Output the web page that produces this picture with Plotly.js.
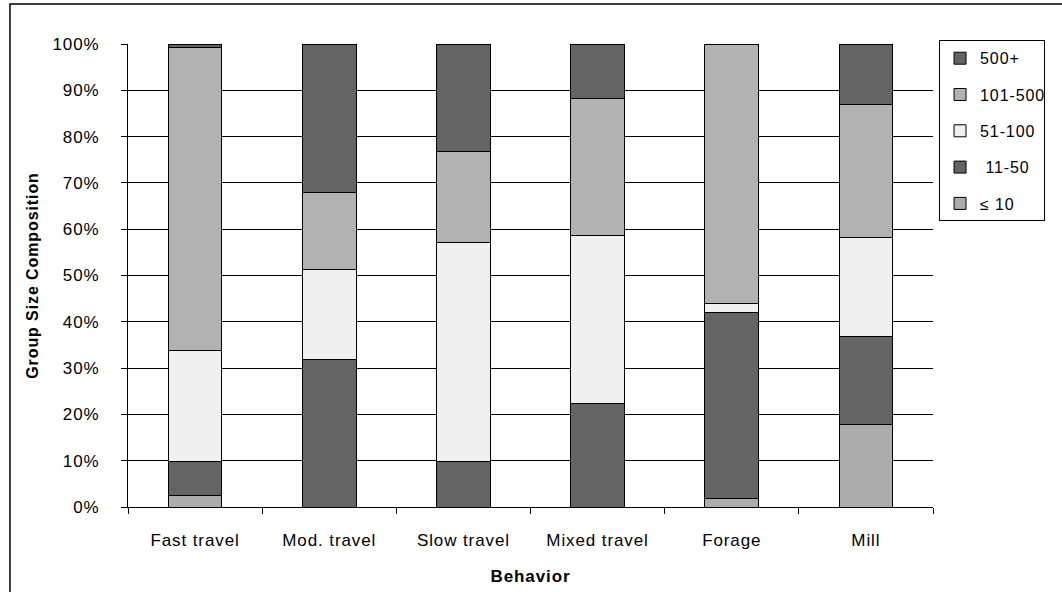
<!DOCTYPE html>
<html>
<head>
<meta charset="utf-8">
<script src="https://cdn.plot.ly/plotly-3.0.1.min.js"></script>
<style>
html, body { margin: 0; padding: 0; background: #ffffff; }
#chart { width: 1062px; height: 592px; }
#chart .xtick text, #chart .ytick text, #chart .legendtext, #chart .g-xtitle text, #chart .g-ytitle text { letter-spacing: 0.9px; }
</style>
</head>
<body>
<div id="chart"></div>
<script>
var categories = ['Fast travel', 'Mod. travel', 'Slow travel', 'Mixed travel', 'Forage', 'Mill'];
var seriesNames = ['\u2264 10', ' 11-50', '51-100', '101-500', '500+'];
var le10 = [2.5, 0, 0, 0, 1.8, 17.9];
var s11to50 = [7.3, 31.9, 9.8, 22.4, 40.3, 19.0];
var s51to100 = [24.0, 19.4, 47.3, 36.2, 1.9, 21.3];
var s101to500 = [65.5, 16.7, 19.6, 29.7, 56.0, 28.8];
var s500plus = [0.7, 32.0, 23.3, 11.7, 0, 13.0];
var yTickVals = [0, 10, 20, 30, 40, 50, 60, 70, 80, 90, 100];
var yTickText = ['0%', '10%', '20%', '30%', '40%', '50%', '60%', '70%', '80%', '90%', '100%'];

var seriesValues = [le10, s11to50, s51to100, s101to500, s500plus];
var seriesColors = ['#acacac', '#646464', '#f0f0f0', '#b2b2b2', '#646464'];

var FONT = 'Liberation Sans, Arial, sans-serif';

var traces = seriesValues.map(function (vals, i) {
  return {
    type: 'bar',
    name: seriesNames[i],
    x: categories,
    y: vals,
    legendgroup: 'g' + i,
    legendrank: 5 - i,
    marker: { color: seriesColors[i], line: { color: '#000000', width: 1 } },
    hoverinfo: 'x+y+name'
  };
});

var layout = {
  width: 1062,
  height: 592,
  margin: { l: 128, r: 129, t: 44, b: 85 },
  paper_bgcolor: '#ffffff',
  plot_bgcolor: '#ffffff',
  barmode: 'stack',
  bargap: 0.6,
  font: { family: FONT, size: 16, color: '#000000' },
  showlegend: true,
  legend: {
    x: 1.0075, xanchor: 'left',
    y: 1.008, yanchor: 'top',
    traceorder: 'grouped',
    tracegroupgap: 12.5,
    entrywidth: 130,
    itemwidth: 30,
    bordercolor: '#000000', borderwidth: 1,
    bgcolor: '#ffffff',
    font: { family: FONT, size: 16, color: '#000000' }
  },
  xaxis: {
    type: 'category',
    showline: true, linecolor: '#000000', linewidth: 1,
    ticks: 'outside', ticklen: 6, tickcolor: '#000000',
    tickson: 'boundaries',
    ticklabelstandoff: 18,
    showgrid: false,
    title: { text: 'Behavior', font: { family: FONT, size: 17, color: '#000000', weight: 'bold' }, standoff: 20 },
    tickfont: { family: FONT, size: 17, color: '#000000' }
  },
  yaxis: {
    range: [0, 100],
    tickmode: 'array',
    tickvals: yTickVals,
    ticktext: yTickText,
    showline: true, linecolor: '#000000', linewidth: 1,
    ticks: 'outside', ticklen: 6, tickcolor: '#000000',
    ticklabelstandoff: 18,
    showgrid: true, gridcolor: '#000000', gridwidth: 1,
    zeroline: false,
    title: { text: 'Group Size Composition', font: { family: FONT, size: 16, color: '#000000', weight: 'bold' }, standoff: 13 },
    tickfont: { family: FONT, size: 17, color: '#000000' }
  },
  shapes: [
    {
      type: 'rect', xref: 'paper', yref: 'paper',
      x0: -0.1466, x1: 1.17, y0: -0.21, y1: 1.0864,
      line: { color: '#000000', width: 1.5 }, fillcolor: 'rgba(0,0,0,0)', layer: 'above'
    }
  ]
};

Plotly.newPlot('chart', traces, layout, { displayModeBar: false, staticPlot: true });
</script>
</body>
</html>
